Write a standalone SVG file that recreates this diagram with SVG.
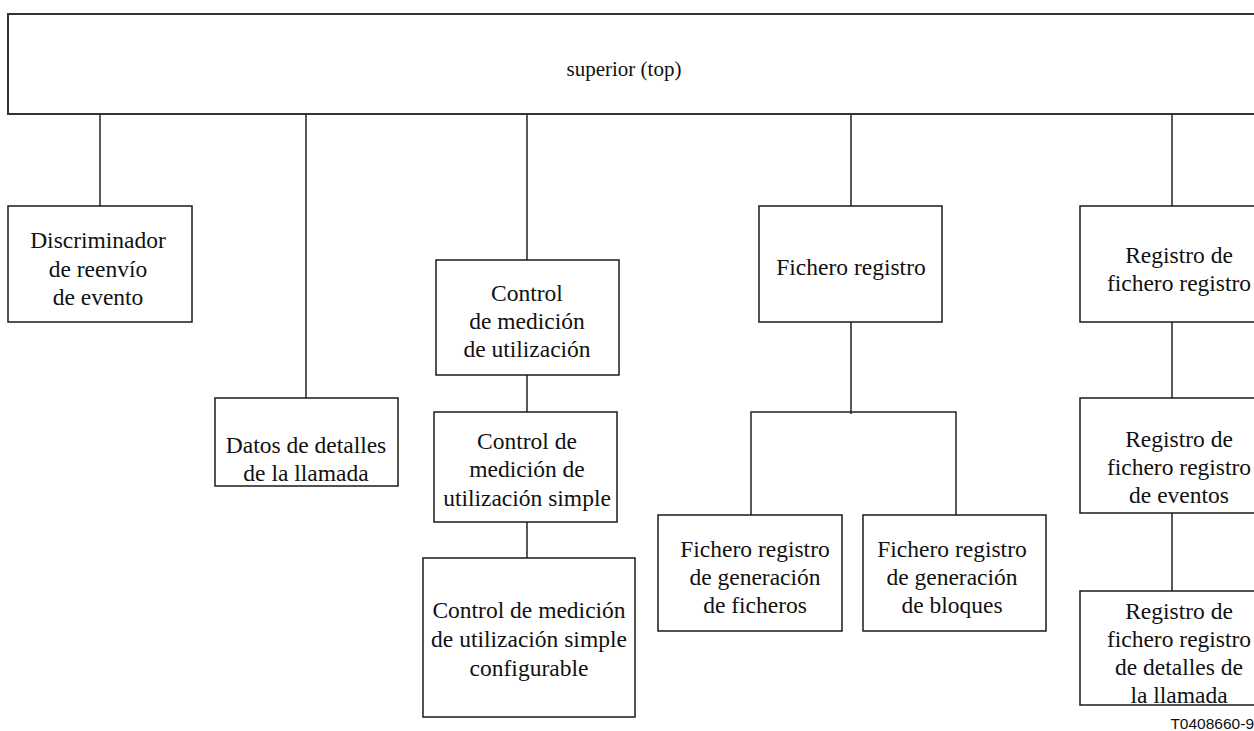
<svg xmlns="http://www.w3.org/2000/svg" width="1254" height="731" viewBox="0 0 1254 731">
<style>
.box{fill:#fff;stroke:#1a1a1a;stroke-width:1.5}
.top{fill:#fff;stroke:#333;stroke-width:2}
.t{font-family:"Liberation Serif","Times New Roman",serif;font-size:23.5px;fill:#111;text-anchor:middle}
.c line,.c polyline{stroke:#222;stroke-width:1.5;fill:none}
.id{font-family:"Liberation Sans",Arial,sans-serif;font-size:15.5px;fill:#111;text-anchor:end}
</style>
<rect width="1254" height="731" fill="#fff"/>
<g class="c" id="connectors">
<line x1="100" y1="114" x2="100" y2="206"/>
<line x1="306" y1="114" x2="306" y2="398"/>
<line x1="527" y1="114" x2="527" y2="260"/>
<line x1="527" y1="375" x2="527" y2="412"/>
<line x1="527" y1="522" x2="527" y2="558"/>
<line x1="851" y1="114" x2="851" y2="206"/>
<line x1="851" y1="322" x2="851" y2="414"/>
<polyline points="751,517 751,412 956,412 956,520"/>
<line x1="1172" y1="114" x2="1172" y2="206"/>
<line x1="1172" y1="322" x2="1172" y2="398"/>
<line x1="1172" y1="513" x2="1172" y2="591"/>
</g>
<g id="top">
<rect class="top" x="8" y="14" width="1260" height="100"/>
<text class="t" x="624" y="76" style="font-size:21px">superior (top)</text>
</g>
<g id="discriminador">
<rect class="box" x="8" y="206" width="184" height="116"/>
<text class="t" x="98" y="248">Discriminador</text>
<text class="t" x="98" y="277">de reenvío</text>
<text class="t" x="98" y="305">de evento</text>
</g>
<g id="datos">
<rect class="box" x="215" y="398" width="183" height="88"/>
<text class="t" x="306" y="453">Datos de detalles</text>
<text class="t" x="306" y="481">de la llamada</text>
</g>
<g id="control">
<rect class="box" x="436" y="260" width="183" height="115"/>
<text class="t" x="527" y="301">Control</text>
<text class="t" x="527" y="329">de medición</text>
<text class="t" x="527" y="357">de utilización</text>
</g>
<g id="control-simple">
<rect class="box" x="434" y="412" width="183" height="110"/>
<text class="t" x="527" y="449">Control de</text>
<text class="t" x="527" y="477">medición de</text>
<text class="t" x="527" y="506">utilización simple</text>
</g>
<g id="control-configurable">
<rect class="box" x="423" y="558" width="212" height="159"/>
<text class="t" x="529" y="618">Control de medición</text>
<text class="t" x="529" y="647">de utilización simple</text>
<text class="t" x="529" y="676">configurable</text>
</g>
<g id="fichero">
<rect class="box" x="759" y="206" width="183" height="116"/>
<text class="t" x="851" y="275">Fichero registro</text>
</g>
<g id="fichero-ficheros">
<rect class="box" x="658" y="515" width="184" height="116"/>
<text class="t" x="755" y="557">Fichero registro</text>
<text class="t" x="755" y="585">de generación</text>
<text class="t" x="755" y="613">de ficheros</text>
</g>
<g id="fichero-bloques">
<rect class="box" x="863" y="515" width="183" height="116"/>
<text class="t" x="952" y="557">Fichero registro</text>
<text class="t" x="952" y="585">de generación</text>
<text class="t" x="952" y="613">de bloques</text>
</g>
<g id="registro">
<rect class="box" x="1080" y="206" width="200" height="116"/>
<text class="t" x="1179" y="263">Registro de</text>
<text class="t" x="1179" y="291">fichero registro</text>
</g>
<g id="registro-eventos">
<rect class="box" x="1080" y="398" width="200" height="115"/>
<text class="t" x="1179" y="447">Registro de</text>
<text class="t" x="1179" y="475">fichero registro</text>
<text class="t" x="1179" y="503">de eventos</text>
</g>
<g id="registro-detalles">
<rect class="box" x="1080" y="591" width="200" height="114"/>
<text class="t" x="1179" y="619">Registro de</text>
<text class="t" x="1179" y="647">fichero registro</text>
<text class="t" x="1179" y="675">de detalles de</text>
<text class="t" x="1179" y="703">la llamada</text>
</g>
<text class="id" x="1254" y="729">T0408660-9</text>
</svg>
